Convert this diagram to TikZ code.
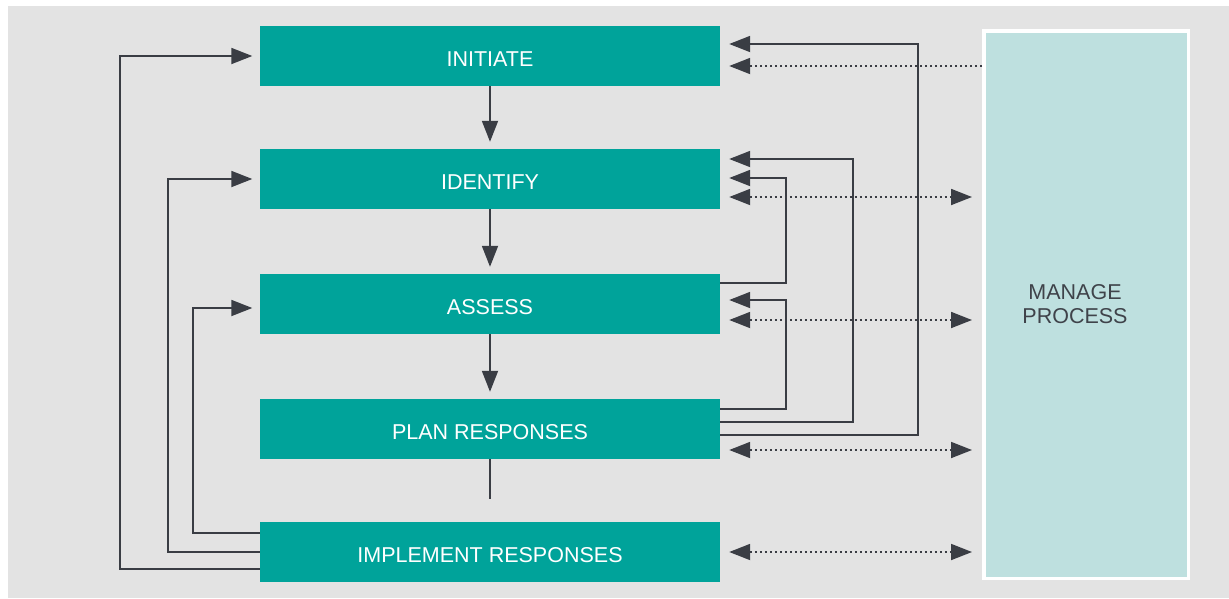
\documentclass[tikz,border=0pt]{standalone}
\usepackage{fontspec}
\setmainfont{Liberation Sans}
\usetikzlibrary{arrows.meta}
\definecolor{tealbox}{RGB}{0,163,154}
\definecolor{lightteal}{RGB}{190,224,223}
\definecolor{bggray}{RGB}{227,227,227}
\definecolor{linecol}{RGB}{58,61,68}
\definecolor{darktext}{RGB}{63,67,74}
\tikzset{
  stagebox/.style={fill=tealbox, draw=none, minimum width=460pt, minimum height=60pt,
    inner sep=0pt, text=white, font=\fontsize{21.5}{25}\selectfont,
    text height=21pt, text depth=0pt},
  conn/.style={draw=linecol, line width=1.8pt},
  tipend/.style={-{Triangle[length=21pt,width=16pt]}},
  tipboth/.style={{Triangle[length=21pt,width=16pt]}-{Triangle[length=21pt,width=16pt]}},
  dotline/.style={dash pattern=on 1.8pt off 3.2pt},
}
\begin{document}
\begin{tikzpicture}[x=1pt,y=-1pt]
\useasboundingbox (0,0) rectangle (1229,598);
\fill[bggray] (8,6) rectangle (1229,598);

\node[stagebox] (initiate)  at (490,56)  {INITIATE};
\node[stagebox] (identify)  at (490,179) {IDENTIFY};
\node[stagebox] (assess)    at (490,304) {ASSESS};
\node[stagebox] (plan)      at (490,429) {PLAN RESPONSES};
\node[stagebox] (implement) at (490,552) {IMPLEMENT RESPONSES};

\node[fill=lightteal, draw=white, line width=3.5pt, minimum width=204.5pt,
      minimum height=547.5pt, inner sep=0pt] (manage) at (1086,304.5) {};
\node[font=\fontsize{21.5}{23.5}\selectfont, text=darktext, align=center,
      inner sep=0pt] (managetxt) at (1075,304) {MANAGE\\PROCESS};

% central flow
\draw[conn,tipend,shorten >=7pt] (initiate) -- (identify);
\draw[conn,tipend,shorten >=7pt] (identify) -- (assess);
\draw[conn,tipend,shorten >=7pt] (assess) -- (plan);
\coordinate (tail) at (490,499);
\draw[conn] (plan) -- (tail);

% left feedback
\draw[conn,tipend,shorten >=7.5pt] ([yshift=-17pt]implement.west) -| (120,56) -- (initiate.west);
\draw[conn,tipend,shorten >=7.5pt] (implement.west) -| (168,179) -- (identify.west);
\draw[conn,tipend,shorten >=7.5pt] ([yshift=19pt]implement.west) -| (193,308) -- ([yshift=-4pt]assess.west);

% right feedback
\draw[conn,tipend,shorten >=9pt] ([yshift=-6pt]plan.east) -| (918,44) -- ([yshift=12pt]initiate.east);
\draw[conn,tipend,shorten >=9pt] ([yshift=7pt]plan.east) -| (853,159) -- ([yshift=20pt]identify.east);
\draw[conn,tipend,shorten >=9pt] ([yshift=21pt]assess.east) -| (786,178) -- ([yshift=1pt]identify.east);
\draw[conn,tipend,shorten >=9pt] ([yshift=20pt]plan.east) -| (786,300) -- ([yshift=4pt]assess.east);

% dotted links with manage process
\draw[conn,dotline,tipend,shorten >=9pt] ([yshift=-10pt]initiate.east -| manage.west) -- ([yshift=-10pt]initiate.east);
\draw[conn,dotline,tipboth,shorten <=9pt,shorten >=10pt] ([yshift=-18pt]identify.east) -- ([yshift=-18pt]identify.east -| manage.west);
\draw[conn,dotline,tipboth,shorten <=9pt,shorten >=10pt] ([yshift=-16pt]assess.east) -- ([yshift=-16pt]assess.east -| manage.west);
\draw[conn,dotline,tipboth,shorten <=9pt,shorten >=10pt] ([yshift=-21pt]plan.east) -- ([yshift=-21pt]plan.east -| manage.west);
\draw[conn,dotline,tipboth,shorten <=9pt,shorten >=10pt] (implement.east) -- (implement.east -| manage.west);
\end{tikzpicture}
\end{document}
